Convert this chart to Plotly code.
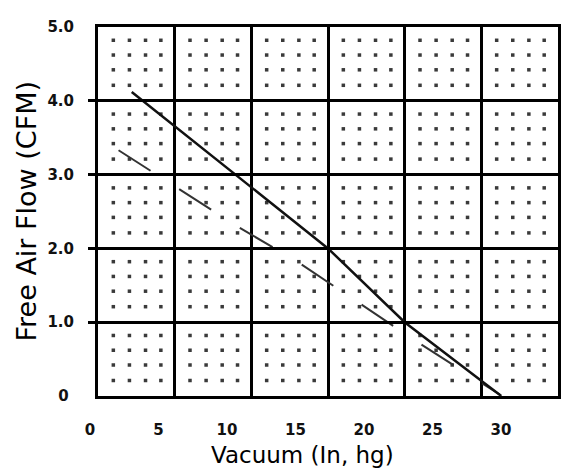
import plotly.graph_objects as go

# ---- data ----
x_ticks = [0, 5, 10, 15, 20, 25, 30]
x_tick_labels = ["0", "5", "10", "15", "20", "25", "30"]
y_ticks = [0, 1, 2, 3, 4, 5]
y_tick_labels = ["0\u00a0", "1.0", "2.0", "3.0", "4.0", "5.0"]

solid_vacuum = [2.2, 9.0, 15.0, 20.0, 26.3]
solid_cfm = [4.12, 3.0, 2.0, 1.0, 0.0]

dashed_vacuum = [1.34, 9.15, 13.0, 20.77, 26.2]
dashed_cfm = [3.33, 2.29, 1.82, 0.74, 0.02]

x_title = "Vacuum (In, hg)"
y_title = "Free Air Flow (CFM)"

# dotted minor grid inside each major cell (4 x 4 dots)
dot_dx = [1.0, 2.05, 3.1, 4.1]
dot_dy = [0.21, 0.42, 0.62, 0.82]
dots_x, dots_y = [], []
for cx in range(0, 30, 5):
    for cy in range(0, 5):
        for dx in dot_dx:
            for dy in dot_dy:
                dots_x.append(cx + dx)
                dots_y.append(cy + dy)

FONT = "DejaVu Sans"
AREA_L, AREA_R = 88, 558      # full plotting area (window px)
AXIS_L = 98                   # left edge of the gridded box
PLOT_W = AREA_R - AREA_L
PLOT_H = 378

fig = go.Figure()
fig.add_trace(go.Scatter(
    x=dots_x, y=dots_y, mode="markers",
    marker=dict(symbol="square", size=3.5, color="#3a3a3a", line=dict(width=0)),
    hoverinfo="skip", showlegend=False))
fig.add_trace(go.Scatter(
    x=dashed_vacuum, y=dashed_cfm, mode="lines",
    line=dict(color="#333333", width=2, dash="38px,34px"),
    showlegend=False))
fig.add_trace(go.Scatter(
    x=solid_vacuum, y=solid_cfm, mode="lines",
    line=dict(color="#111111", width=2.5),
    showlegend=False))
# invisible trace holding the label axis
fig.add_trace(go.Scatter(
    x=[0, 30], y=[0, 0], xaxis="x2", yaxis="y", mode="markers",
    marker=dict(opacity=0), hoverinfo="skip", showlegend=False))

fig.update_layout(
    width=568, height=468,
    margin=dict(l=AREA_L - 8, r=18, t=10, b=80),
    paper_bgcolor="white", plot_bgcolor="rgba(0,0,0,0)",
    font=dict(family=FONT, color="#111111"),
    xaxis=dict(
        domain=[(AXIS_L - AREA_L) / PLOT_W, 1],
        range=[0, 30], tickvals=x_ticks, showticklabels=False,
        showgrid=True, gridcolor="black", gridwidth=3,
        zeroline=False, showline=True, linecolor="black", linewidth=3,
        mirror=True, ticks=""),
    xaxis2=dict(
        anchor="y", side="bottom", domain=[0, 1],
        range=[-0.146, 34.16], tickvals=x_ticks, ticktext=x_tick_labels,
        showgrid=False, zeroline=False, showline=False, ticks="",
        tickfont=dict(family=FONT, size=15, color="#111111", weight="bold"),
        ticklabelstandoff=23),
    yaxis=dict(
        anchor="x",
        range=[0, 5], tickvals=y_ticks, ticktext=y_tick_labels,
        showgrid=True, gridcolor="black", gridwidth=3,
        zeroline=False, showline=True, linecolor="black", linewidth=3,
        mirror=True, ticks="",
        tickfont=dict(family=FONT, size=15, color="#111111", weight="bold"),
        ticklabelstandoff=18),
    annotations=[
        dict(text=x_title, xref="paper", yref="paper",
             x=(302 - AREA_L) / PLOT_W, y=-(456 - 396) / PLOT_H,
             xanchor="center", yanchor="middle", showarrow=False,
             font=dict(family=FONT, size=23, color="black")),
        dict(text=y_title, xref="paper", yref="paper",
             x=-(AREA_L - 26) / PLOT_W, y=(396 - 207) / PLOT_H,
             xanchor="center", yanchor="middle", showarrow=False,
             textangle=-90,
             font=dict(family=FONT, size=27, color="black")),
    ],
)

fig.write_html("out.html")
